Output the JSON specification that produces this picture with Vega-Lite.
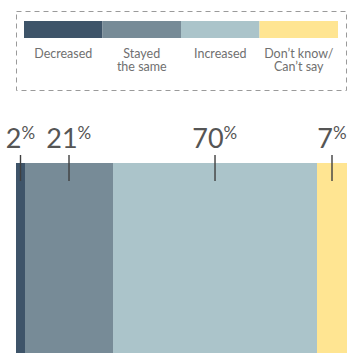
{
  "$schema": "https://vega.github.io/schema/vega-lite/v6.json",
  "padding": {"left": 5, "top": 10, "right": 0, "bottom": 0},
  "bounds": "flush",
  "spacing": 73,
  "config": {"view": {"stroke": null}, "font": "Lato"},
  "vconcat": [
    {
      "width": 330,
      "height": 79,
      "view": {"stroke": "#9a9a9a", "strokeDash": [5, 4], "strokeWidth": 1},
      "data": {"values": [
        {"cat": "Decreased", "label": "Decreased"},
        {"cat": "Stayed the same", "label": "Stayed\nthe same"},
        {"cat": "Increased", "label": "Increased"},
        {"cat": "Don’t know/Can’t say", "label": "Don’t know/\nCan’t say"}
      ]},
      "encoding": {
        "x": {"field": "cat", "type": "nominal", "sort": null, "scale": {"paddingInner": 0, "paddingOuter": 0.102}, "axis": null}
      },
      "layer": [
        {
          "mark": {"type": "bar"},
          "encoding": {
            "y": {"value": 10},
            "y2": {"value": 27},
            "color": {"field": "cat", "type": "nominal", "legend": null,
              "scale": {"domain": ["Decreased", "Stayed the same", "Increased", "Don’t know/Can’t say"],
                        "range": ["#3e5469", "#778b97", "#abc4ca", "#ffe592"]}}
          }
        },
        {
          "mark": {"type": "text", "lineBreak": "\n", "baseline": "alphabetic", "fontSize": 12.5, "fontWeight": 400, "color": "#707070", "lineHeight": 13.5},
          "encoding": {
            "y": {"value": 46.5},
            "text": {"field": "label"}
          }
        }
      ]
    },
    {
      "width": 331,
      "height": 190,
      "data": {"values": [
        {"cat": "Decreased", "pct": 2, "share": 2.72, "order": 1},
        {"cat": "Stayed the same", "pct": 21, "share": 26.59, "order": 2},
        {"cat": "Increased", "pct": 70, "share": 61.63, "order": 3},
        {"cat": "Don’t know/Can’t say", "pct": 7, "share": 9.06, "order": 4}
      ]},
      "transform": [
        {"stack": "share", "groupby": [], "sort": [{"field": "order"}], "as": ["s0", "s1"]},
        {"calculate": "(datum.s0 + datum.s1) / 2", "as": "mid"},
        {"calculate": "datum.mid + (datum.pct >= 10 ? 2.6 : 0.3)", "as": "junction"}
      ],
      "layer": [
        {
          "mark": {"type": "rect"},
          "encoding": {
            "x": {"field": "s0", "type": "quantitative", "scale": {"domain": [0, 100], "nice": false, "zero": false}, "axis": null},
            "x2": {"field": "s1"},
            "color": {"field": "cat", "type": "nominal", "legend": null}
          }
        },
        {
          "mark": {"type": "rule", "color": "#3f3f3f", "strokeWidth": 1.4},
          "encoding": {
            "x": {"field": "mid", "type": "quantitative"},
            "y": {"value": -8},
            "y2": {"value": 18}
          }
        },
        {
          "mark": {"type": "text", "align": "right", "baseline": "alphabetic", "fontSize": 27, "color": "#555555"},
          "encoding": {
            "x": {"field": "junction", "type": "quantitative"},
            "y": {"value": -15},
            "text": {"field": "pct", "type": "quantitative"}
          }
        },
        {
          "mark": {"type": "text", "align": "left", "baseline": "alphabetic", "fontSize": 17, "color": "#555555"},
          "encoding": {
            "x": {"field": "junction", "type": "quantitative"},
            "y": {"value": -24},
            "text": {"value": "%"}
          }
        }
      ]
    }
  ]
}
